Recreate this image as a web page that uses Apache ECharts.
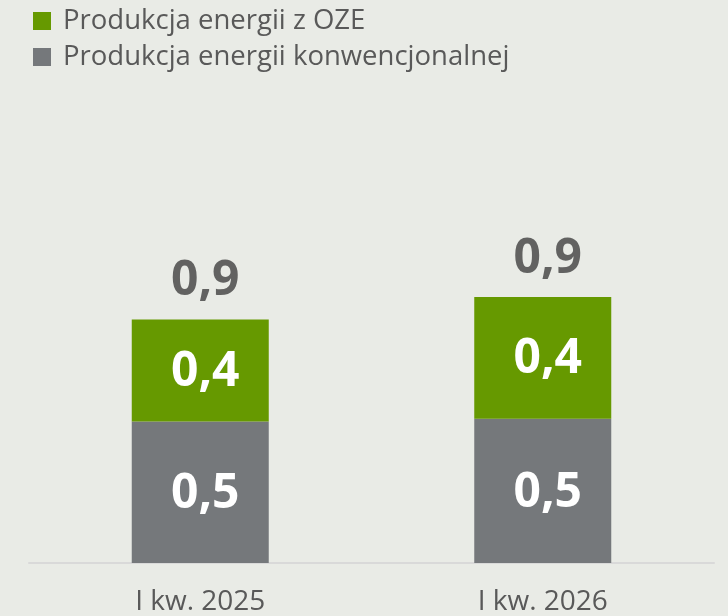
<!DOCTYPE html>
<html>
<head>
<meta charset="utf-8">
<script src="https://cdn.jsdelivr.net/npm/echarts@6/dist/echarts.min.js"></script>
<style>
html,body{margin:0;padding:0;background:#E9EBE6;}
#c{width:728px;height:616px;}
</style>
</head>
<body>
<div id="c"></div>
<script>
var categories = ['I kw. 2025', 'I kw. 2026'];
var konwencjonalna = [0.50, 0.51];
var oze = [0.36, 0.43];
var totals = [0.86, 0.94];
var seriesNames = ['Produkcja energii konwencjonalnej', 'Produkcja energii z OZE'];

function fmt(v) { return v.toFixed(1).replace('.', ','); }

var chart = echarts.init(document.getElementById('c'));
chart.setOption({
  backgroundColor: '#E9EBE6',
  animation: false,
  legend: {
    orient: 'vertical',
    left: 33,
    top: 7,
    padding: 0,
    itemWidth: 18,
    itemHeight: 18,
    itemGap: 8,
    icon: 'rect',
    data: [seriesNames[1], seriesNames[0]],
    textStyle: { fontFamily: 'Open Sans', fontSize: 27.5, color: '#595959', lineHeight: 18, padding: [0, 0, 0, 7] }
  },
  grid: { left: 29, right: 14, top: 280, bottom: 53, containLabel: false },
  xAxis: {
    type: 'category',
    data: categories,
    axisLine: { show: true, lineStyle: { color: '#D9D9D9', width: 2 } },
    axisTick: { show: false },
    axisLabel: { fontFamily: 'Open Sans', fontSize: 28, color: '#595959', margin: 25 }
  },
  yAxis: {
    type: 'value', min: 0, max: 1,
    show: false,
    splitLine: { show: false }
  },
  series: [
    {
      name: seriesNames[0], type: 'bar', stack: 's', barWidth: '40%',
      data: konwencjonalna,
      itemStyle: { color: '#75787B' },
      label: { show: true, position: 'inside', offset: [5, 2], formatter: function (p) { return fmt(p.value); },
        fontFamily: 'Open Sans', fontWeight: 'bold', fontSize: 48, color: '#FFFFFF' }
    },
    {
      name: seriesNames[1], type: 'bar', stack: 's', barWidth: '40%',
      data: oze,
      itemStyle: { color: '#669900' },
      label: { show: true, position: 'inside', offset: [5, 2], formatter: function (p) { return fmt(p.value); },
        fontFamily: 'Open Sans', fontWeight: 'bold', fontSize: 48, color: '#FFFFFF' }
    },
    {
      name: 'suma', type: 'scatter', data: totals, symbolSize: 0, silent: true,
      label: { show: true, position: 'top', distance: 14, offset: [5, 0], formatter: function (p) { return fmt(p.value); },
        fontFamily: 'Open Sans', fontWeight: 'bold', fontSize: 48, color: '#404040' }
    }
  ]
});
</script>
</body>
</html>
